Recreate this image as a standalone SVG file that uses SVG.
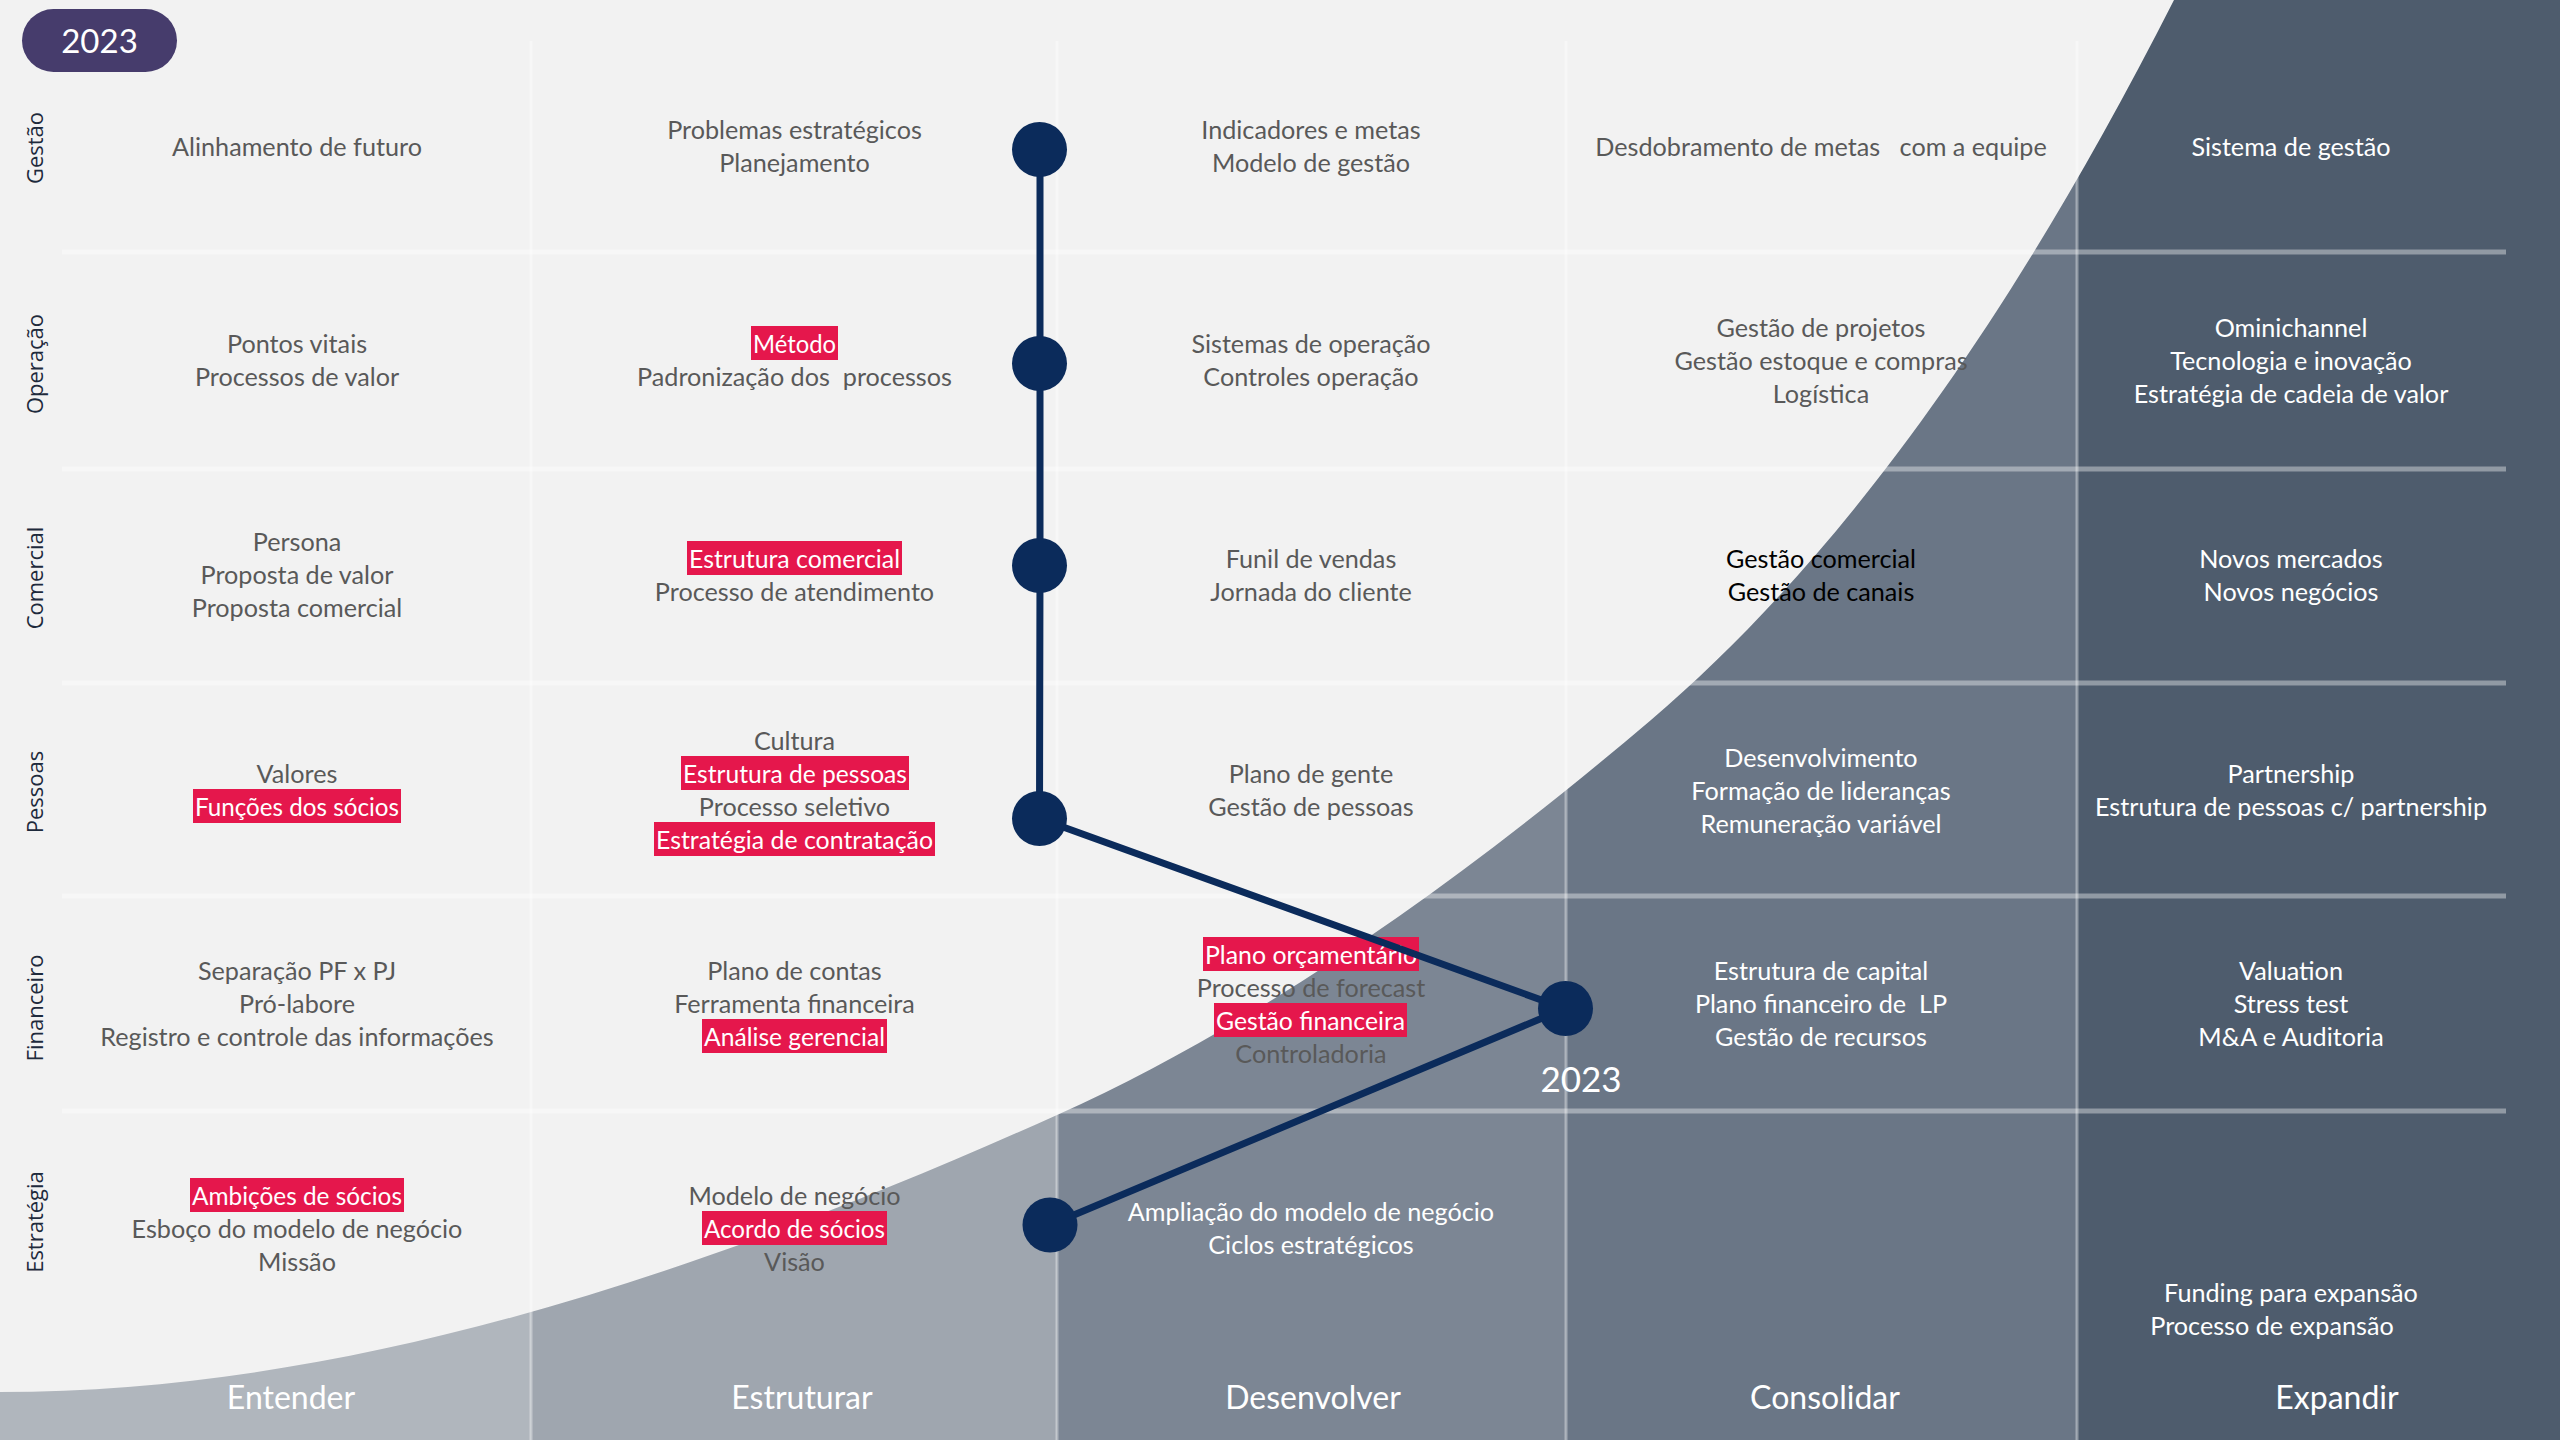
<svg xmlns="http://www.w3.org/2000/svg" width="2560" height="1440" viewBox="0 0 2560 1440">
<defs>
<style>
.c{font-family:Lato,"Open Sans",sans-serif;font-size:25.2px;text-anchor:middle;fill:#595959}
.w{fill:#ffffff}
.k{fill:#000000}
.h{fill:#e5174c}
.hw{fill:#ffffff}
.lbl{font-family:"Open Sans",sans-serif;font-size:22px;text-anchor:middle;fill:#1e2a3c}
.ph{font-family:Lato,sans-serif;font-size:32px;text-anchor:middle;fill:#ffffff}
.gl{stroke:#ffffff;stroke-opacity:0.38}
.node{fill:#0b2b5b}
</style>
<clipPath id="curveClip"><path d="M0,1392 C352,1392 705,1273 1057,1115 C1255,1026 1453,888 1651,720 C1825,572 2000,343 2174,0 L2560,0 L2560,1440 L0,1440 Z"/></clipPath>
</defs>
<rect x="0" y="0" width="2560" height="1440" fill="#f2f2f2"/>
<g id="curve" clip-path="url(#curveClip)">
<rect x="0" y="0" width="531" height="1440" fill="#b0b6bd"/>
<rect x="531" y="0" width="526" height="1440" fill="#9fa6af"/>
<rect x="1057" y="0" width="509" height="1440" fill="#7c8694"/>
<rect x="1566" y="0" width="511" height="1440" fill="#6a7686"/>
<rect x="2077" y="0" width="483" height="1440" fill="#4e5c6d"/>
</g>
<g id="grid">
<line class="gl" x1="531" y1="41" x2="531" y2="1440" stroke-width="3"/>
<line class="gl" x1="1057" y1="41" x2="1057" y2="1440" stroke-width="3"/>
<line class="gl" x1="1566" y1="41" x2="1566" y2="1440" stroke-width="3"/>
<line class="gl" x1="2077" y1="41" x2="2077" y2="1440" stroke-width="3"/>
<line class="gl" x1="62" y1="252" x2="2506" y2="252" stroke-width="5"/>
<line class="gl" x1="62" y1="469" x2="2506" y2="469" stroke-width="5"/>
<line class="gl" x1="62" y1="683" x2="2506" y2="683" stroke-width="5"/>
<line class="gl" x1="62" y1="896" x2="2506" y2="896" stroke-width="5"/>
<line class="gl" x1="62" y1="1111" x2="2506" y2="1111" stroke-width="5"/>
</g>
<g id="badge">
<rect x="22" y="9" width="155" height="63" rx="31.5" fill="#463c6c"/>
<text x="99.5" y="53" font-family="Lato,sans-serif" font-size="33" fill="#ffffff" text-anchor="middle">2023</text>
</g>
<g id="row-labels">
<text class="lbl" transform="translate(43,148) rotate(-90)">Gestão</text>
<text class="lbl" transform="translate(43,364) rotate(-90)">Operação</text>
<text class="lbl" transform="translate(43,578) rotate(-90)">Comercial</text>
<text class="lbl" transform="translate(43,792) rotate(-90)">Pessoas</text>
<text class="lbl" transform="translate(43,1008) rotate(-90)">Financeiro</text>
<text class="lbl" transform="translate(43,1222) rotate(-90)">Estratégia</text>
</g>
<g id="phases">
<text class="ph" x="291" y="1409">Entender</text>
<text class="ph" x="802" y="1409">Estruturar</text>
<text class="ph" x="1313" y="1409">Desenvolver</text>
<text class="ph" x="1825" y="1409">Consolidar</text>
<text class="ph" x="2337" y="1409">Expandir</text>
</g>
<!-- Row 1 Gestão -->
<g id="gestao-entender"><text class="c" x="297" y="156">Alinhamento de futuro</text></g>
<g id="gestao-estruturar"><text class="c" x="794.5" y="139">Problemas estratégicos</text><text class="c" x="794.5" y="172">Planejamento</text></g>
<g id="gestao-desenvolver"><text class="c" x="1311" y="139">Indicadores e metas</text><text class="c" x="1311" y="172">Modelo de gestão</text></g>
<g id="gestao-consolidar"><text class="c" x="1821" y="156" xml:space="preserve">Desdobramento de metas   com a equipe</text></g>
<g id="gestao-expandir"><text class="c w" x="2291" y="156">Sistema de gestão</text></g>
<!-- Row 2 Operação -->
<g id="operacao-entender"><text class="c" x="297" y="353">Pontos vitais</text><text class="c" x="297" y="386">Processos de valor</text></g>
<g id="operacao-estruturar"><rect class="h" x="751" y="326" width="87" height="34"/><text class="c hw" x="794.5" y="353" textLength="83" lengthAdjust="spacingAndGlyphs">Método</text><text class="c" x="794.5" y="386" xml:space="preserve">Padronização dos  processos</text></g>
<g id="operacao-desenvolver"><text class="c" x="1311" y="353">Sistemas de operação</text><text class="c" x="1311" y="386">Controles operação</text></g>
<g id="operacao-consolidar"><text class="c" x="1821" y="337">Gestão de projetos</text><text class="c" x="1821" y="370">Gestão estoque e compras</text><text class="c" x="1821" y="403">Logística</text></g>
<g id="operacao-expandir"><text class="c w" x="2291" y="337">Ominichannel</text><text class="c w" x="2291" y="370">Tecnologia e inovação</text><text class="c w" x="2291" y="403">Estratégia de cadeia de valor</text></g>
<!-- Row 3 Comercial -->
<g id="comercial-entender"><text class="c" x="297" y="551">Persona</text><text class="c" x="297" y="584">Proposta de valor</text><text class="c" x="297" y="617">Proposta comercial</text></g>
<g id="comercial-estruturar"><rect class="h" x="687" y="541" width="215" height="34"/><text class="c hw" x="794.5" y="568" textLength="211" lengthAdjust="spacingAndGlyphs">Estrutura comercial</text><text class="c" x="794.5" y="601">Processo de atendimento</text></g>
<g id="comercial-desenvolver"><text class="c" x="1311" y="568">Funil de vendas</text><text class="c" x="1311" y="601">Jornada do cliente</text></g>
<g id="comercial-consolidar"><text class="c k" x="1821" y="568">Gestão comercial</text><text class="c k" x="1821" y="601">Gestão de canais</text></g>
<g id="comercial-expandir"><text class="c w" x="2291" y="568">Novos mercados</text><text class="c w" x="2291" y="601">Novos negócios</text></g>
<!-- Row 4 Pessoas -->
<g id="pessoas-entender"><text class="c" x="297" y="783">Valores</text><rect class="h" x="193" y="789" width="208" height="34"/><text class="c hw" x="297" y="816" textLength="204" lengthAdjust="spacingAndGlyphs">Funções dos sócios</text></g>
<g id="pessoas-estruturar"><text class="c" x="794.5" y="750">Cultura</text><rect class="h" x="681" y="756" width="228" height="34"/><text class="c hw" x="795" y="783" textLength="224" lengthAdjust="spacingAndGlyphs">Estrutura de pessoas</text><text class="c" x="794.5" y="816">Processo seletivo</text><rect class="h" x="654" y="822" width="281" height="34"/><text class="c hw" x="794.5" y="849" textLength="277" lengthAdjust="spacingAndGlyphs">Estratégia de contratação</text></g>
<g id="pessoas-desenvolver"><text class="c" x="1311" y="783">Plano de gente</text><text class="c" x="1311" y="816">Gestão de pessoas</text></g>
<g id="pessoas-consolidar"><text class="c w" x="1821" y="767">Desenvolvimento</text><text class="c w" x="1821" y="800">Formação de lideranças</text><text class="c w" x="1821" y="833">Remuneração variável</text></g>
<g id="pessoas-expandir"><text class="c w" x="2291" y="783">Partnership</text><text class="c w" x="2291" y="816">Estrutura de pessoas c/ partnership</text></g>
<!-- Row 5 Financeiro -->
<g id="financeiro-entender"><text class="c" x="297" y="980">Separação PF x PJ</text><text class="c" x="297" y="1013">Pró-labore</text><text class="c" x="297" y="1046">Registro e controle das informações</text></g>
<g id="financeiro-estruturar"><text class="c" x="794.5" y="980">Plano de contas</text><text class="c" x="794.5" y="1013">Ferramenta financeira</text><rect class="h" x="702" y="1019" width="185" height="34"/><text class="c hw" x="794.5" y="1046" textLength="181" lengthAdjust="spacingAndGlyphs">Análise gerencial</text></g>
<g id="financeiro-desenvolver"><rect class="h" x="1203" y="937" width="216" height="34"/><text class="c hw" x="1311" y="964" textLength="212" lengthAdjust="spacingAndGlyphs">Plano orçamentário</text><text class="c" x="1311" y="997">Processo de forecast</text><rect class="h" x="1214" y="1003" width="193" height="34"/><text class="c hw" x="1310.5" y="1030" textLength="189" lengthAdjust="spacingAndGlyphs">Gestão financeira</text><text class="c" x="1311" y="1063">Controladoria</text></g>
<g id="financeiro-consolidar"><text class="c w" x="1821" y="980">Estrutura de capital</text><text class="c w" x="1821" y="1013" xml:space="preserve">Plano financeiro de  LP</text><text class="c w" x="1821" y="1046">Gestão de recursos</text></g>
<g id="financeiro-expandir"><text class="c w" x="2291" y="980">Valuation</text><text class="c w" x="2291" y="1013">Stress test</text><text class="c w" x="2291" y="1046">M&amp;A e Auditoria</text></g>
<!-- Row 6 Estratégia -->
<g id="estrategia-entender"><rect class="h" x="190" y="1178" width="214" height="34"/><text class="c hw" x="297" y="1205" textLength="210" lengthAdjust="spacingAndGlyphs">Ambições de sócios</text><text class="c" x="297" y="1238">Esboço do modelo de negócio</text><text class="c" x="297" y="1271">Missão</text></g>
<g id="estrategia-estruturar"><text class="c" x="794.5" y="1205">Modelo de negócio</text><rect class="h" x="702" y="1211" width="185" height="34"/><text class="c hw" x="794.5" y="1238" textLength="181" lengthAdjust="spacingAndGlyphs">Acordo de sócios</text><text class="c" x="794.5" y="1271">Visão</text></g>
<g id="estrategia-desenvolver"><text class="c w" x="1311" y="1221">Ampliação do modelo de negócio</text><text class="c w" x="1311" y="1254">Ciclos estratégicos</text></g>
<g id="estrategia-expandir"><text class="c w" x="2291" y="1302">Funding para expansão</text><text class="c w" x="2272" y="1335">Processo de expansão</text></g>
<!-- timeline -->
<g id="connectors" fill="none" stroke="#0b2b5b" stroke-width="7" stroke-linejoin="round" stroke-linecap="round">
<path d="M1040,150 L1040,364 L1040,566 L1039.5,818.5 L1565,1008.5 L1050,1225"/>
</g>
<g id="milestones">
<circle id="m-gestao" class="node" cx="1039.5" cy="149.5" r="27.5"/>
<circle id="m-operacao" class="node" cx="1039.5" cy="363.5" r="27.5"/>
<circle id="m-comercial" class="node" cx="1039.5" cy="565.5" r="27.5"/>
<circle id="m-pessoas" class="node" cx="1039.5" cy="818.5" r="27.5"/>
<circle id="m-financeiro" class="node" cx="1565.5" cy="1008.5" r="27.5"/>
<circle id="m-estrategia" class="node" cx="1050" cy="1225" r="27.5"/>
<text x="1581" y="1092" font-family="Lato,sans-serif" font-size="35" fill="#ffffff" text-anchor="middle">2023</text>
</g>
</svg>
